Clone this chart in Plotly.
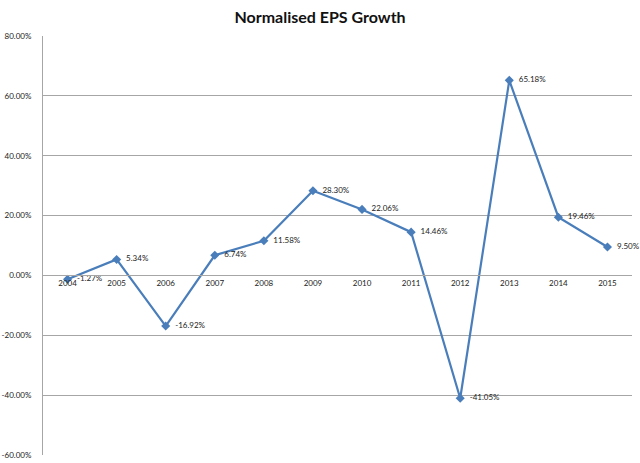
import plotly.graph_objects as go

years = ["2004", "2005", "2006", "2007", "2008", "2009", "2010", "2011", "2012", "2013", "2014", "2015"]
growth = [-1.27, 5.34, -16.92, 6.74, 11.58, 28.30, 22.06, 14.46, -41.05, 65.18, 19.46, 9.50]
y_ticks = [80, 60, 40, 20, 0, -20, -40, -60]

labels = [f"\u00a0\u00a0{v:.2f}%" for v in growth]
FONT = "Lato, sans-serif"

fig = go.Figure()
fig.add_trace(go.Scatter(
    x=years, y=growth, mode="lines+markers+text",
    line=dict(color="#4A7EBB", width=2.2),
    marker=dict(symbol="diamond", size=7, color="#4A7EBB"),
    text=labels, textposition="middle right",
    textfont=dict(family=FONT, size=8, color="#222222"),
    cliponaxis=False, showlegend=False,
))

ymin, ymax = -60, 80
fig.update_layout(
    width=640, height=463,
    paper_bgcolor="white", plot_bgcolor="white",
    margin=dict(l=43, r=8, t=36, b=8, autoexpand=False),
    title=dict(text="<b>Normalised EPS Growth</b>", x=0.5, xanchor="center", y=0.962, yanchor="middle",
               font=dict(family=FONT, size=16, color="#111111")),
    xaxis=dict(
        type="category", range=[-0.5, 11.5], automargin=False,
        anchor="free", position=(0 - ymin) / (ymax - ymin),
        showline=True, linecolor="#A6A6A6", linewidth=1,
        showgrid=False, ticks="", zeroline=False,
        tickfont=dict(family=FONT, size=8, color="#222222"),
    ),
    yaxis=dict(
        range=[ymin, ymax], tickvals=y_ticks, automargin=False,
        ticktext=[f"{v:.2f}%" for v in y_ticks],
        showgrid=True, gridcolor="#A6A6A6", gridwidth=1,
        showline=True, linecolor="#A6A6A6", linewidth=1,
        zeroline=False, ticks="", ticklabelstandoff=9,
        tickfont=dict(family=FONT, size=8, color="#222222"),
    ),
)

fig.write_html("out.html", config={"displayModeBar": False},
               post_script="document.body.style.margin='0';")
